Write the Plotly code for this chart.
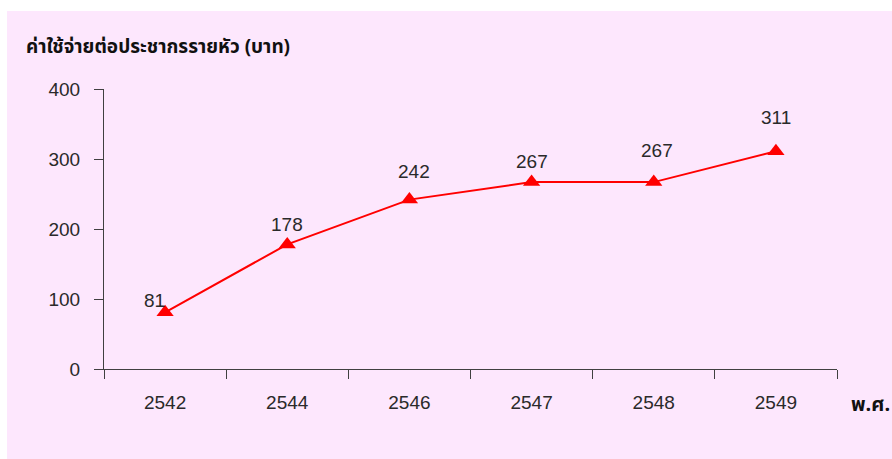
import plotly.graph_objects as go

years = ["2542", "2544", "2546", "2547", "2548", "2549"]
cost_per_head = [81, 178, 242, 267, 267, 311]
y_ticks = [0, 100, 200, 300, 400]

# per-label offsets (pixels) for the value annotations
label_dx = [-11, 0, 5, 0, 3, 0]
label_dy = [12, 20, 28, 21, 32, 34]

num_font = "Liberation Sans Narrow, Arial Narrow, Liberation Sans, sans-serif"
thai_font = "Noto Sans Thai, Loma, Tahoma, DejaVu Sans, sans-serif"
pink = "#FDE7FD"
axis_col = "#404040"
text_col = "#2a2a2a"

fig = go.Figure()
fig.add_trace(go.Scatter(
    x=years, y=cost_per_head, mode="lines+markers",
    line=dict(color="#FF0000", width=2),
    marker=dict(symbol="triangle-up", size=15, color="#FF0000"),
    hoverinfo="x+y", showlegend=False,
))

# value labels, placed by category index
for i, v in enumerate(cost_per_head):
    fig.add_annotation(
        x=i, y=v, xref="x", yref="y", text=str(v), showarrow=False,
        xshift=label_dx[i], yshift=label_dy[i],
        font=dict(family=num_font, size=19, color=text_col),
    )

W, H = 892, 459
L, R, T, B = 104, 55, 89, 90
pw, ph = W - L - R, H - T - B

# pink panel behind the whole chart
fig.add_shape(
    type="rect", xref="paper", yref="paper", layer="below",
    x0=(7 - L) / pw, x1=(W - L) / pw,
    y0=-(H - (T + ph)) / ph, y1=(T + ph - 11) / ph,
    fillcolor=pink, line=dict(width=0),
)

fig.add_annotation(
    xref="paper", yref="paper", x=(24 - L) / pw, y=(T + ph - 47) / ph,
    xanchor="left", yanchor="middle", showarrow=False,
    text="<b>ค่าใช้จ่ายต่อประชากรรายหัว (บาท)</b>",
    font=dict(family=thai_font, size=19, color="#111111"),
)
fig.add_annotation(
    xref="paper", yref="paper", x=(849 - L) / pw, y=(T + ph - 405) / ph,
    xanchor="left", yanchor="middle", showarrow=False,
    text="<b>พ.ศ.</b>",
    font=dict(family=thai_font, size=20, color="#111111"),
)

fig.update_layout(
    width=W, height=H,
    margin=dict(l=L, r=R, t=T, b=B),
    paper_bgcolor="white", plot_bgcolor=pink,
    xaxis=dict(
        type="category", range=[-0.5, 5.5],
        showline=True, linecolor=axis_col, linewidth=1,
        ticks="outside", ticklen=9, tickcolor=axis_col, tickson="boundaries",
        showgrid=False, zeroline=False,
        tickfont=dict(family=num_font, size=19, color=text_col),
        ticklabelstandoff=16,
    ),
    yaxis=dict(
        range=[0, 400], tickvals=y_ticks,
        showline=True, linecolor=axis_col, linewidth=1,
        ticks="outside", ticklen=9, tickcolor=axis_col,
        showgrid=False, zeroline=False,
        tickfont=dict(family=num_font, size=19, color=text_col),
        ticklabelstandoff=10,
    ),
)

fig.write_html("out.html")
